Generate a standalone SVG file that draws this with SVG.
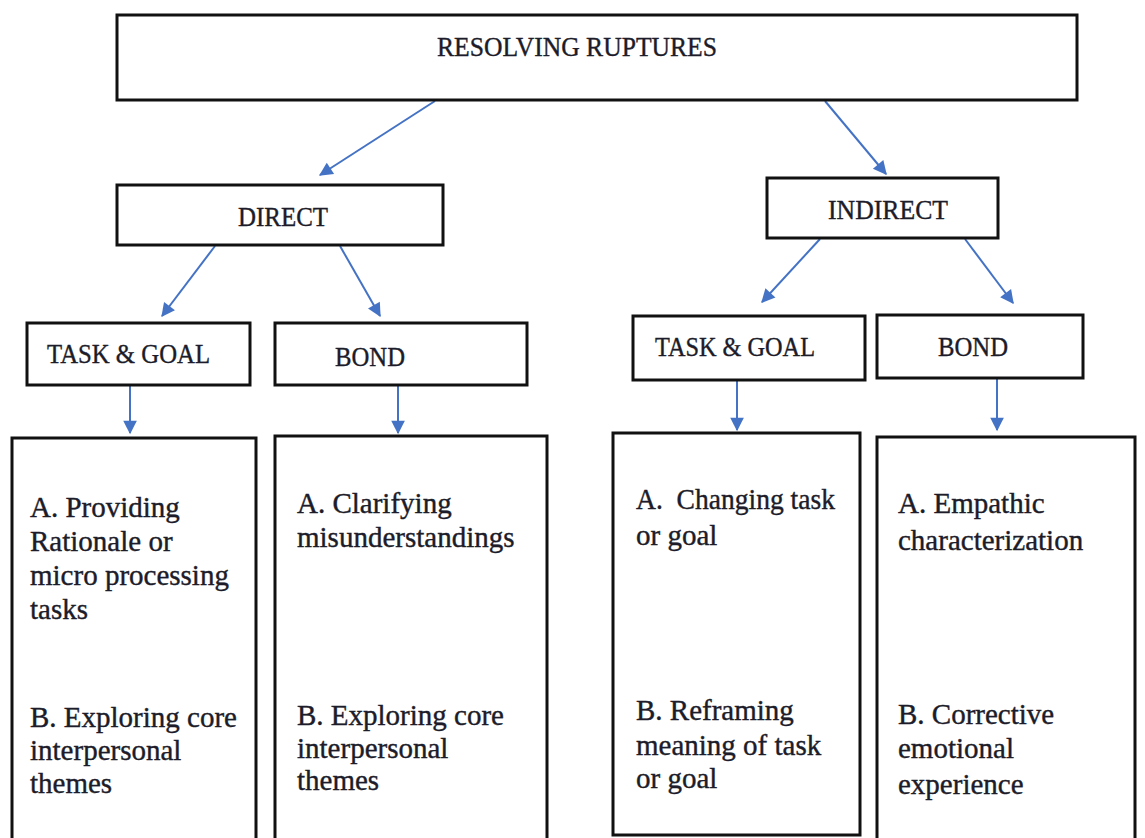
<svg xmlns="http://www.w3.org/2000/svg" width="1145" height="838" viewBox="0 0 1145 838">
<style>
.box{fill:#fff;stroke:#111;stroke-width:3}
.hd{font-family:"Liberation Serif",serif;font-size:28px;fill:#1c1c2a;stroke:#1c1c2a;stroke-width:0.4}
.tx{font-family:"Liberation Serif",serif;font-size:29px;fill:#1c1c2a;stroke:#1c1c2a;stroke-width:0.4}
.cn{stroke:#4472C4;stroke-width:2;fill:none;marker-end:url(#ah)}
</style>
<defs>
<marker id="ah" viewBox="0 0 10 10" refX="9" refY="5" markerWidth="8" markerHeight="8" markerUnits="userSpaceOnUse" orient="auto" style="overflow:visible">
<path d="M0,0 L10,5 L0,10 Z" fill="#4472C4" transform="scale(1.7) translate(-3.8,-2.1)"/>
</marker>
</defs>
<rect width="1145" height="838" fill="#fff"/>
<g id="connectors">
<line class="cn" x1="435" y1="101" x2="320" y2="175"/>
<line class="cn" x1="825" y1="101" x2="886" y2="174"/>
<line class="cn" x1="215" y1="246" x2="162" y2="316"/>
<line class="cn" x1="340" y1="246" x2="380" y2="316"/>
<line class="cn" x1="820" y1="239" x2="762" y2="302"/>
<line class="cn" x1="965" y1="239" x2="1013" y2="303"/>
<line class="cn" x1="130" y1="386" x2="130" y2="433"/>
<line class="cn" x1="398" y1="386" x2="398" y2="433"/>
<line class="cn" x1="737" y1="381" x2="737" y2="430"/>
<line class="cn" x1="997" y1="379" x2="997" y2="430"/>
</g>
<g id="root">
<rect class="box" x="117" y="15" width="960" height="85"/>
<text class="hd" x="577" y="56" text-anchor="middle" textLength="280" lengthAdjust="spacingAndGlyphs">RESOLVING RUPTURES</text>
</g>
<g id="direct">
<rect class="box" x="117" y="185" width="326" height="60"/>
<text class="hd" x="283" y="226" text-anchor="middle" textLength="90" lengthAdjust="spacingAndGlyphs">DIRECT</text>
</g>
<g id="indirect">
<rect class="box" x="767" y="178" width="231" height="60"/>
<text class="hd" x="888" y="219" text-anchor="middle" textLength="120" lengthAdjust="spacingAndGlyphs">INDIRECT</text>
</g>
<g id="direct-task">
<rect class="box" x="27" y="323" width="223" height="62"/>
<text class="hd" x="47" y="363" textLength="163" lengthAdjust="spacingAndGlyphs">TASK &amp; GOAL</text>
</g>
<g id="direct-bond">
<rect class="box" x="275" y="323" width="252" height="62"/>
<text class="hd" x="335" y="366" textLength="70" lengthAdjust="spacingAndGlyphs">BOND</text>
</g>
<g id="indirect-task">
<rect class="box" x="633" y="316" width="232" height="64"/>
<text class="hd" x="655" y="356" textLength="160" lengthAdjust="spacingAndGlyphs">TASK &amp; GOAL</text>
</g>
<g id="indirect-bond">
<rect class="box" x="877" y="315" width="206" height="63"/>
<text class="hd" x="938" y="356" textLength="70" lengthAdjust="spacingAndGlyphs">BOND</text>
</g>
<g id="direct-task-detail">
<rect class="box" x="12" y="438" width="244" height="410"/>
<text class="tx" x="30" y="517">A. Providing</text>
<text class="tx" x="30" y="551">Rationale or</text>
<text class="tx" x="30" y="585">micro processing</text>
<text class="tx" x="30" y="619">tasks</text>
<text class="tx" x="30" y="727">B. Exploring core</text>
<text class="tx" x="30" y="760">interpersonal</text>
<text class="tx" x="30" y="793">themes</text>
</g>
<g id="direct-bond-detail">
<rect class="box" x="275" y="436" width="272" height="412"/>
<text class="tx" x="297" y="513">A. Clarifying</text>
<text class="tx" x="297" y="547">misunderstandings</text>
<text class="tx" x="297" y="725">B. Exploring core</text>
<text class="tx" x="297" y="758">interpersonal</text>
<text class="tx" x="297" y="790">themes</text>
</g>
<g id="indirect-task-detail">
<rect class="box" x="613" y="433" width="247" height="402"/>
<text class="tx" x="636" y="509" xml:space="preserve" textLength="199" lengthAdjust="spacingAndGlyphs">A.  Changing task</text>
<text class="tx" x="636" y="545">or goal</text>
<text class="tx" x="636" y="720">B. Reframing</text>
<text class="tx" x="636" y="755">meaning of task</text>
<text class="tx" x="636" y="788">or goal</text>
</g>
<g id="indirect-bond-detail">
<rect class="box" x="877" y="437" width="258" height="411"/>
<text class="tx" x="898" y="513">A. Empathic</text>
<text class="tx" x="898" y="550">characterization</text>
<text class="tx" x="898" y="724">B. Corrective</text>
<text class="tx" x="898" y="758">emotional</text>
<text class="tx" x="898" y="794">experience</text>
</g>
</svg>
